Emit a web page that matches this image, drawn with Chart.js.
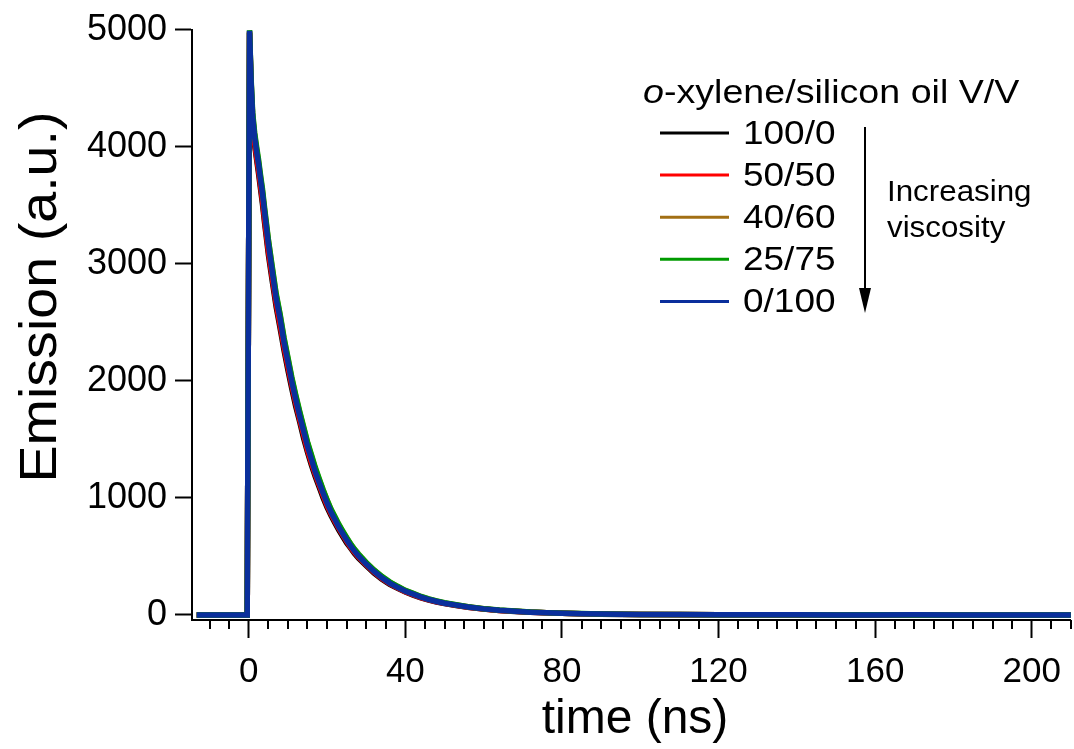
<!DOCTYPE html>
<html>
<head>
<meta charset="utf-8">
<script src="https://cdn.jsdelivr.net/npm/chart.js@4"></script>
<style>
  html, body { margin: 0; padding: 0; background: #fff; }
  #wrap { width: 1074px; height: 749px; }
</style>
</head>
<body>
<div id="wrap"><canvas id="decay" width="1074" height="749"></canvas></div>
<script>
// time axis (ns)
const times = [
  -13.3, -5, -0.4, 0.2, 0.6, 1, 1.5, 2, 2.5, 3, 3.5, 4,
  5, 6, 7, 8, 9, 10, 11, 12, 13, 14, 15, 16, 17, 18, 19, 20, 21, 22, 23, 24, 25, 26, 27, 28,
  30, 32, 34, 36, 38, 40, 42, 44, 46, 48, 50,
  53, 56, 60, 64, 68, 72, 76, 80,
  85, 90, 95, 100,
  110, 120, 130, 140, 150, 160, 170, 180, 190, 200, 210,
];

// emission (a.u.) per o-xylene/silicon oil mixture
const em100_0 = [
  0, 0, 0, 4970, 4480, 4180, 4010, 3890, 3770, 3640, 3510, 3360,
  3080, 2850, 2630, 2450, 2260, 2090, 1930, 1780, 1650, 1510, 1390, 1280, 1180, 1090, 1000, 920, 850, 785, 725, 670, 615, 570, 525, 485,
  420, 358, 305, 262, 228, 196, 170, 146, 128, 111, 97,
  80, 65, 50, 38, 30, 23, 18, 14,
  10, 7, 5, 4,
  2, 1, 1, 0, 0, 0, 0, 1, 0, 0, 0,
];
const em50_50 = [
  0, 0, 0, 4980, 4500, 4200, 4030, 3910, 3800, 3670, 3540, 3390,
  3110, 2880, 2660, 2480, 2290, 2120, 1960, 1810, 1670, 1540, 1410, 1300, 1200, 1110, 1020, 935, 865, 800, 740, 685, 630, 580, 535, 495,
  428, 366, 312, 268, 232, 199, 174, 149, 130, 113, 99,
  82, 66, 51, 39, 31, 24, 18, 14,
  11, 8, 6, 4,
  3, 1, 1, 1, 0, 0, 0, 0, 1, 0, 0,
];
const em40_60 = [
  0, 0, 0, 4985, 4560, 4270, 4100, 3980, 3870, 3740, 3620, 3470,
  3200, 2960, 2730, 2560, 2360, 2190, 2020, 1870, 1730, 1600, 1470, 1360, 1250, 1155, 1065, 980, 900, 835, 770, 712, 658, 605, 560, 518,
  446, 382, 327, 280, 243, 208, 183, 156, 136, 118, 103,
  86, 70, 54, 41, 32, 25, 19, 15,
  11, 8, 6, 5,
  3, 2, 1, 1, 1, 0, 0, 0, 0, 0, 0,
];
const em25_75 = [
  0, 0, 0, 4995, 4580, 4290, 4120, 4000, 3890, 3760, 3640, 3490,
  3210, 2975, 2745, 2570, 2370, 2200, 2030, 1880, 1740, 1610, 1480, 1370, 1260, 1165, 1070, 985, 905, 840, 775, 718, 662, 610, 563, 522,
  449, 385, 330, 283, 245, 210, 185, 158, 137, 120, 104,
  87, 71, 54, 42, 33, 25, 20, 15,
  12, 9, 6, 5,
  3, 2, 1, 1, 0, 1, 0, 0, 0, 0, 0,
];
const em0_100 = [
  0, 0, 0, 4990, 4550, 4250, 4080, 3960, 3850, 3720, 3600, 3450,
  3170, 2930, 2700, 2530, 2330, 2160, 1990, 1840, 1700, 1570, 1440, 1330, 1220, 1130, 1040, 955, 880, 815, 750, 695, 640, 590, 545, 505,
  435, 372, 318, 272, 236, 202, 178, 152, 132, 115, 100,
  84, 68, 52, 40, 31, 24, 19, 15,
  11, 8, 6, 5,
  3, 2, 1, 1, 0, 0, 1, 0, 0, 0, 0,
];

const labels = ["100/0", "50/50", "40/60", "25/75", "0/100"];
const colors = ["#000000", "#ff0000", "#a26f14", "#009a00", "#0a2f9c"];
const series = [em100_0, em50_50, em40_60, em25_75, em0_100];

const xTicks = [0, 40, 80, 120, 160, 200];
const xMinorStep = 5;
const yTicks = [0, 1000, 2000, 3000, 4000, 5000];

const FONT = "'Liberation Sans', Arial, Helvetica, sans-serif";

// draw text with horizontal stretch (the original figure is a bit wide)
function stretchText(ctx, txt, x, y, sx) {
  ctx.save();
  ctx.translate(x, y);
  ctx.scale(sx, 1);
  ctx.fillText(txt, 0, 0);
  ctx.restore();
}

const decorations = {
  id: "decorations",
  afterDraw(chart) {
    const ctx = chart.ctx;
    const xs = chart.scales.x;
    const area = chart.chartArea;
    ctx.save();

    // minor ticks on time axis
    ctx.strokeStyle = "#000";
    ctx.lineWidth = 2;
    ctx.beginPath();
    for (let v = Math.ceil(xs.min / xMinorStep) * xMinorStep; v <= xs.max; v += xMinorStep) {
      if (xTicks.includes(v)) continue;
      const px = Math.round(xs.getPixelForValue(v));
      ctx.moveTo(px, area.bottom);
      ctx.lineTo(px, area.bottom + 9);
    }
    ctx.stroke();

    // axis titles
    ctx.fillStyle = "#000";
    ctx.textAlign = "center";
    ctx.textBaseline = "alphabetic";
    ctx.font = "48px " + FONT;
    ctx.fillText("time (ns)", 635, 733);

    ctx.save();
    ctx.translate(56, 297);
    ctx.rotate(-Math.PI / 2);
    ctx.font = "52px " + FONT;
    stretchText(ctx, "Emission (a.u.)", 0, 0, 1.07);
    ctx.restore();

    // legend
    ctx.textAlign = "left";
    ctx.font = "italic 33px " + FONT;
    stretchText(ctx, "o", 643, 103, 1.14);
    const oW = ctx.measureText("o").width * 1.14;
    ctx.font = "33px " + FONT;
    stretchText(ctx, "-xylene/silicon oil V/V", 643 + oW, 103, 1.14);

    ctx.textBaseline = "middle";
    chart.data.datasets.forEach((ds, i) => {
      const y = 133 + i * 42.1;
      ctx.strokeStyle = ds.borderColor;
      ctx.lineWidth = 3;
      ctx.beginPath();
      ctx.moveTo(660, y);
      ctx.lineTo(729, y);
      ctx.stroke();
      ctx.fillStyle = "#000";
      stretchText(ctx, ds.label, 743, y + 2, 1.12);
    });

    // viscosity arrow
    ctx.strokeStyle = "#000";
    ctx.lineWidth = 2;
    ctx.beginPath();
    ctx.moveTo(865, 127);
    ctx.lineTo(865, 295);
    ctx.stroke();
    ctx.beginPath();
    ctx.moveTo(859, 288);
    ctx.lineTo(871, 288);
    ctx.lineTo(865, 313);
    ctx.closePath();
    ctx.fill();

    ctx.textBaseline = "alphabetic";
    ctx.font = "29px " + FONT;
    stretchText(ctx, "Increasing", 887, 201, 1.08);
    stretchText(ctx, "viscosity", 887, 237, 1.08);

    ctx.restore();
  },
};

new Chart(document.getElementById("decay"), {
  type: "line",
  data: {
    datasets: series.map((vals, i) => ({
      label: labels[i],
      data: times.map((t, j) => ({ x: t, y: vals[j] })),
      borderColor: colors[i],
      borderWidth: 5.5,
      pointRadius: 0,
      tension: 0,
      fill: false,
      order: 4 - i,
    })),
  },
  options: {
    responsive: false,
    animation: false,
    devicePixelRatio: 1,
    layout: { padding: { top: 29, right: 1, bottom: 0, left: 0 } },
    plugins: {
      legend: { display: false },
      tooltip: { enabled: false },
    },
    scales: {
      x: {
        type: "linear",
        min: -14.5,
        max: 210,
        afterFit: (s) => { s.height = 129; },
        afterBuildTicks: (s) => { s.ticks = xTicks.map((v) => ({ value: v })); },
        border: { display: true, color: "#000", width: 2 },
        grid: {
          drawOnChartArea: false,
          drawTicks: true,
          tickLength: 18,
          tickColor: "#000",
          tickWidth: 2,
        },
        ticks: {
          color: "#000",
          padding: 13,
          maxRotation: 0,
          font: { family: FONT, size: 35 },
          callback: (v) => String(v),
        },
      },
      y: {
        type: "linear",
        min: -43,
        max: 5000,
        afterFit: (s) => { s.width = 192; },
        afterBuildTicks: (s) => { s.ticks = yTicks.map((v) => ({ value: v })); },
        border: { display: true, color: "#000", width: 2 },
        grid: {
          drawOnChartArea: false,
          drawTicks: true,
          tickLength: 17,
          tickColor: "#000",
          tickWidth: 2,
        },
        ticks: {
          color: "#000",
          padding: 8,
          font: { family: FONT, size: 36 },
          callback: (v) => String(v),
        },
      },
    },
  },
  plugins: [decorations],
});
</script>
</body>
</html>
